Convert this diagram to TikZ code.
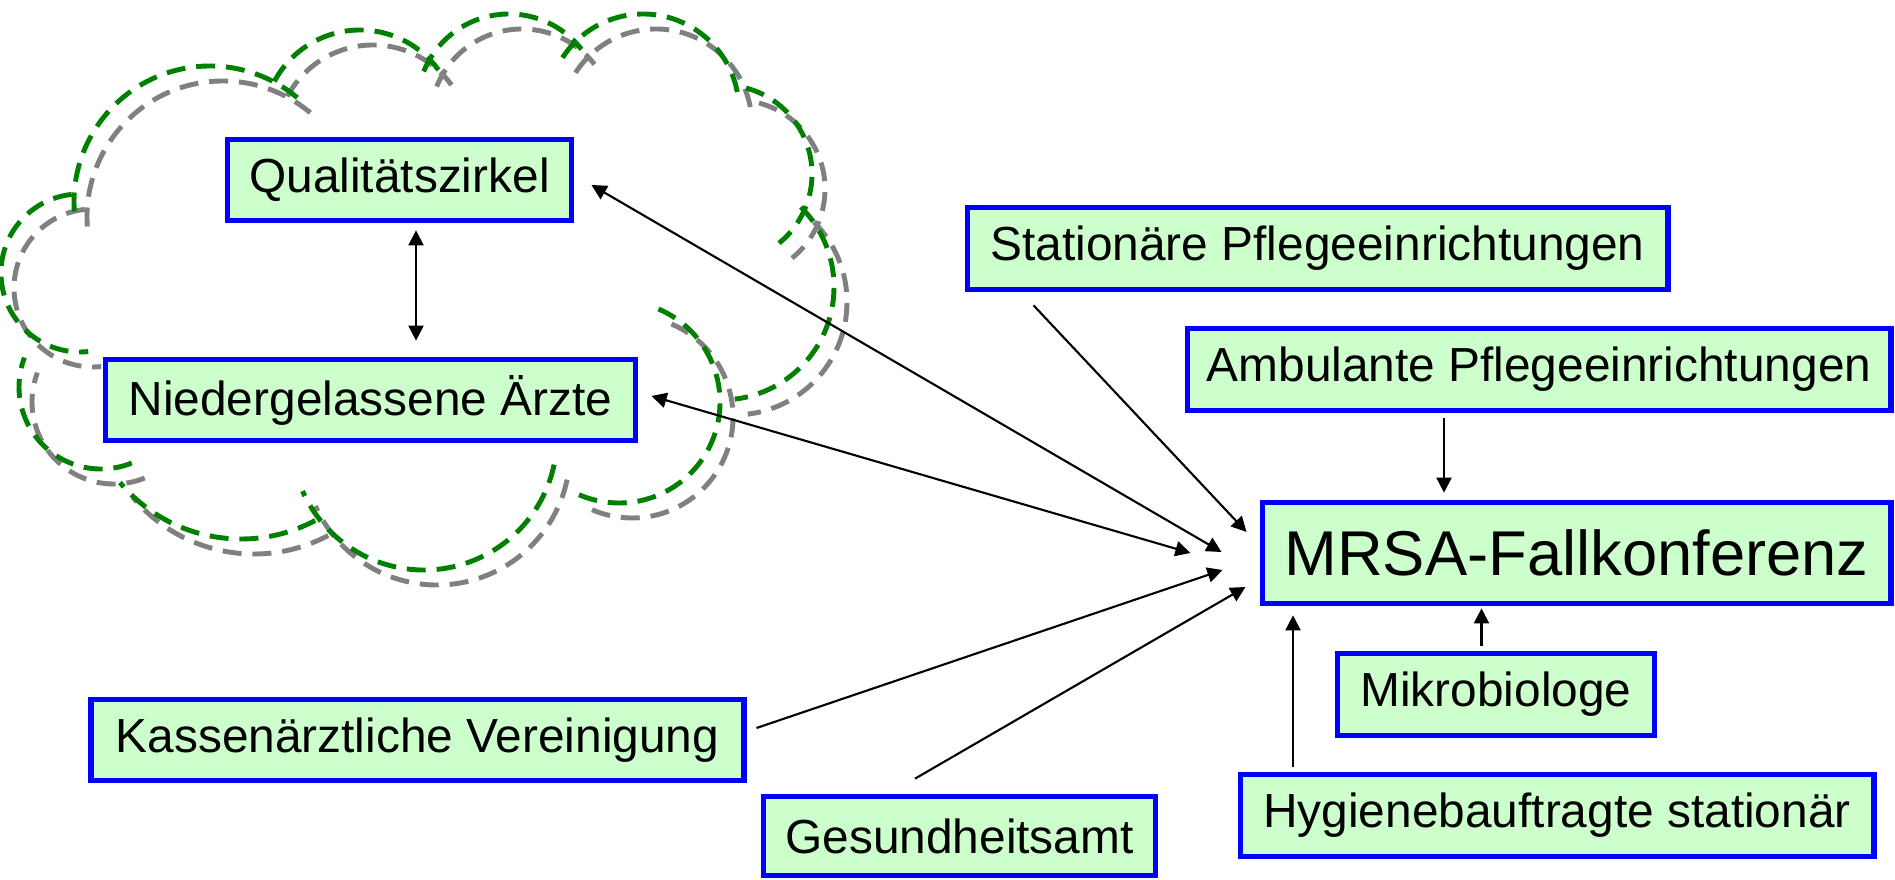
\documentclass[tikz,border=0pt]{standalone}
\usepackage{fontspec}
\setmainfont{Liberation Sans}
\usepackage{tikz}
\usetikzlibrary{calc,arrows.meta}

\definecolor{boxgreen}{RGB}{204,255,204}
\definecolor{cloudgreen}{RGB}{0,128,0}
\definecolor{cloudgray}{RGB}{128,128,128}

\tikzset{
  box/.style={draw=blue, line width=1.6pt, fill=boxgreen, inner sep=0pt,
    minimum height=0.81cm, font=\fontsize{13.6pt}{16pt}\selectfont},
  pfeil/.style={line width=0.6pt, -{Triangle[length=4.3pt,width=4.3pt]}},
  doppelpfeil/.style={line width=0.6pt,
    {Triangle[length=4.3pt,width=4.3pt]}-{Triangle[length=4.3pt,width=4.3pt]}},
  wolke/.style={line width=1.4pt, dash pattern=on 5.4pt off 3.1pt},
}

\begin{document}
\begin{tikzpicture}[x=0.01cm, y=-0.01cm]
    \useasboundingbox (0,0) rectangle (1895,880);

    % draw cloud (gray copy first, green on top)
    \foreach \col/\dx/\dy in {cloudgray/13/15, cloudgreen/0/0}
    \foreach \cx/\cy/\r/\a/\b in {80/273/79/264/84, 210/202/136/176/311,
        360/127/97/208/324, 509/106/92/202/322, 643/110/96/213/353,
        723/174/89/-75/51, 721/287/113/-45/83, 619/402/101/-67/118,
        424/437/133/12/156, 241/381/158/62/140, 101/387/82/68/201}
    \draw[wolke, draw=\col] (\cx+\dx,\cy+\dy) ++(\a:\r) arc[start angle=\a, end angle=\b, radius=\r];

    % draw boxes
    \node[box, minimum width=3.44cm] (qual) at (399.5,180) {Qualitätszirkel};
    \node[box, minimum width=5.30cm] (niedr) at (370.5,400) {Niedergelassene Ärzte};
    \node[box, minimum width=6.52cm] (kv) at (417.5,740) {Kassenärztliche Vereinigung};
    \node[box, minimum width=3.92cm, minimum height=0.79cm] (ga) at (959.5,836) {Gesundheitsamt};
    \node[box, minimum width=7.00cm, minimum height=0.82cm] (stat) at (1317.5,248.5) {Stationäre Pflegeeinrichtungen};
    \node[box, minimum width=7.03cm, minimum height=0.82cm] (amb) at (1539,369.5) {Ambulante Pflegeeinrichtungen};
    \node[box, minimum width=6.28cm, minimum height=1.01cm,
        font=\fontsize{18pt}{22pt}\selectfont] (mrsa) at (1576.5,553) {MRSA-Fallkonferenz};
    \node[box, minimum width=3.17cm, minimum height=0.82cm] (mikro) at (1496,694.5) {Mikrobiologe};
    \node[box, minimum width=6.33cm, minimum height=0.82cm] (hyg) at (1557,815.5) {Hygienebauftragte stationär};

    % draw arrows
    \draw[doppelpfeil] ($(qual.south)+(16.5,7)$) -- ($(niedr.north)+(45.5,-16)$);
    \draw[doppelpfeil] ($(qual.east)+(17,5)$) -- ($(mrsa.west)+(-38,-1)$);
    \draw[doppelpfeil] ($(niedr.east)+(13,-4)$) -- ($(mrsa.west)+(-69,0)$);
    \draw[pfeil] ($(stat.south west)+(69,13)$) -- ($(mrsa.west)+(-13,-21)$);
    \draw[pfeil] ($(amb.south)+(-95,5)$) -- ($(mrsa.north)+(-132.5,-7)$);
    \draw[pfeil] ($(kv.east)+(10,-12)$) -- ($(mrsa.west)+(-37,17)$);
    \draw[pfeil] ($(ga.north)+(-44.5,-15)$) -- ($(mrsa.west)+(-14,34)$);
    \draw[pfeil] ($(mikro.north)+(-14.5,-5)$) -- ($(mrsa.south)+(-95,2)$);
    \draw[pfeil] ($(hyg.north)+(-264,-5)$) -- ($(mrsa.south)+(-283.5,9)$);

\end{tikzpicture}
\end{document}
